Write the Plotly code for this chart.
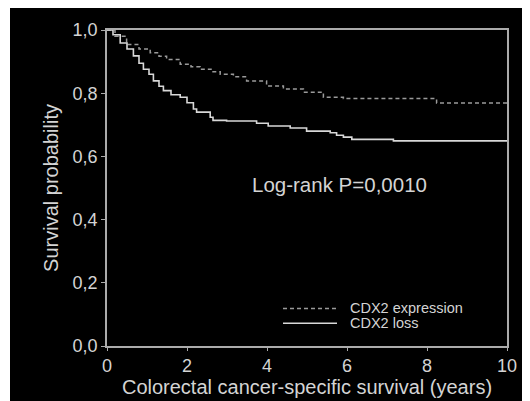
import plotly.graph_objects as go

# Kaplan-Meier curves
loss_t = [0, 0.15, 0.33, 0.5, 0.66, 0.8, 0.91, 1.05, 1.16, 1.3, 1.41, 1.6, 1.83, 2.0,
          2.16, 2.24, 2.58, 2.65, 2.99, 3.74, 4.03, 4.58, 4.99, 5.58, 5.74, 5.91, 6.12, 7.16, 10]
loss_s = [1.0, 0.985, 0.959, 0.94, 0.918, 0.895, 0.876, 0.86, 0.839, 0.822, 0.808, 0.795, 0.787, 0.77,
          0.75, 0.74, 0.724, 0.714, 0.712, 0.705, 0.696, 0.69, 0.68, 0.675, 0.667, 0.661, 0.654, 0.649, 0.649]

expr_t = [0, 0.2, 0.49, 0.8, 1.08, 1.3, 1.49, 1.83, 2.1, 2.33, 2.6, 2.83, 3.16, 3.49,
          3.99, 4.41, 4.91, 5.41, 5.91, 8.24, 10]
expr_s = [1.0, 0.98, 0.954, 0.94, 0.928, 0.917, 0.907, 0.892, 0.884, 0.876, 0.868, 0.86, 0.852, 0.839,
          0.823, 0.813, 0.803, 0.787, 0.783, 0.769, 0.769]

x_ticks = [0, 2, 4, 6, 8, 10]
y_ticks = [0.0, 0.2, 0.4, 0.6, 0.8, 1.0]

series_names = ["CDX2 expression", "CDX2 loss"]
annotation_text = "Log-rank P=0,0010"

FONT = "Liberation Sans, Arial, sans-serif"
TXT = "#d4d4d4"
AX = "#ababab"
EXPR_STYLE = dict(color="#9a9a9a", width=1.5, dash="4px,3px")
LOSS_STYLE = dict(color="#d8d8d8", width=1.6)

fig = go.Figure()
fig.add_trace(go.Scatter(x=expr_t, y=expr_s, mode="lines", line_shape="hv",
                         name=series_names[0], line=EXPR_STYLE, showlegend=False))
fig.add_trace(go.Scatter(x=loss_t, y=loss_s, mode="lines", line_shape="hv",
                         name=series_names[1], line=LOSS_STYLE, showlegend=False))

fig.add_annotation(x=5.8, y=0.511, xref="x", yref="y", text=annotation_text,
                   showarrow=False, font=dict(family=FONT, size=20.5, color=TXT))

# compact legend (line samples + labels) in the lower right of the plot area
leg_rows = [0.119, 0.072]
for name, style, yy in zip(series_names, [EXPR_STYLE, LOSS_STYLE], leg_rows):
    fig.add_shape(type="line", xref="paper", yref="paper", x0=0.44, x1=0.575,
                  y0=yy, y1=yy, line=style)
    fig.add_annotation(x=0.6025, y=yy, xref="paper", yref="paper", text=name,
                       showarrow=False, xanchor="left", yanchor="middle",
                       font=dict(family=FONT, size=14.5, color=TXT))

# thin white strip at the far left edge (reference frame is slightly inset)
fig.add_shape(type="rect", xref="paper", yref="paper", x0=-0.26, x1=-0.2425,
              y0=-0.3, y1=1.2, fillcolor="white", line_width=0, layer="above")

fig.update_layout(
    width=530, height=401,
    margin=dict(l=99, r=31, t=19, b=63),
    paper_bgcolor="black", plot_bgcolor="black",
    separators=", ",
    font=dict(family=FONT, color=TXT, size=18),
    showlegend=False,
)
fig.update_xaxes(range=[0, 10], tickvals=x_ticks, ticks="outside", ticklen=3,
                 tickcolor=AX, showline=True, linecolor=AX, linewidth=1.5, mirror=True,
                 showgrid=False, zeroline=False,
                 tickfont=dict(size=18, color=TXT),
                 title=dict(text="Colorectal cancer-specific survival (years)",
                            font=dict(size=20, color=TXT), standoff=4))
fig.update_yaxes(range=[0, 1.0], tickvals=y_ticks, tickformat=".1f", ticks="outside", ticklen=4,
                 tickcolor=AX, showline=True, linecolor=AX, linewidth=1.5, mirror=True,
                 showgrid=False, zeroline=False,
                 tickfont=dict(size=18, color=TXT),
                 title=dict(text="Survival probability", font=dict(size=20, color=TXT), standoff=9))

fig.write_html("out.html")
